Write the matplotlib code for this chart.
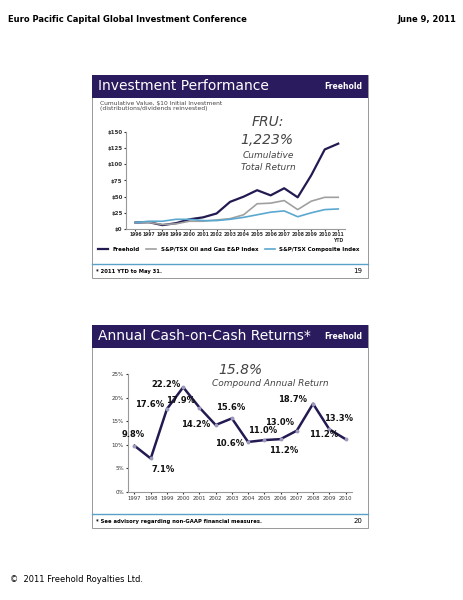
import matplotlib
matplotlib.use("Agg")
import matplotlib.pyplot as plt
from matplotlib.patches import Rectangle

years1 = ["1996","1997","1998","1999","2000","2001","2002","2003","2004","2005","2006","2007","2008","2009","2010","2011\nYTD"]
freehold = [10,10.5,6,9,15,18,24,42,50,60,52,63,49,83,123,132]
oilgas = [10,10,7,8,12,12,14,16,22,39,40,44,30,43,49,49]
composite = [10,12,12,15,15,13,13,15,18,22,26,28,19,25,30,31]
years2 = ["1997","1998","1999","2000","2001","2002","2003","2004","2005","2006","2007","2008","2009","2010"]
returns = [9.8,7.1,17.6,22.2,17.9,14.2,15.6,10.6,11.0,11.2,13.0,18.7,13.3,11.2]

W, H = 464, 600
fig = plt.figure(figsize=(4.64, 6), dpi=100)
fig.patch.set_facecolor("white")
PURPLE = "#2a1b5e"
NAVY = "#241a52"

def fx(x): return x / W
def fy(y): return 1 - y / H

fig.text(fx(8), fy(20), "Euro Pacific Capital Global Investment Conference", fontsize=6, fontweight="bold", va="center")
fig.text(fx(456), fy(20), "June 9, 2011", fontsize=6, fontweight="bold", va="center", ha="right")
fig.text(fx(10), fy(580), "©  2011 Freehold Royalties Ltd.", fontsize=6, va="center")

def slide(top, bottom, title, foot, num):
    fig.add_artist(Rectangle((fx(92), fy(bottom)), fx(368) - fx(92), fy(top) - fy(bottom),
                             transform=fig.transFigure, fill=False, ec="#888888", lw=0.6))
    fig.add_artist(Rectangle((fx(92), fy(top + 23)), fx(368) - fx(92), fy(top) - fy(top + 23),
                             transform=fig.transFigure, fc=PURPLE, ec="none"))
    fig.text(fx(98), fy(top + 11.5), title, color="white", fontsize=10, va="center")
    fig.text(fx(362), fy(top + 11.5), "Freehold", color="white", fontsize=5.5, fontweight="bold", va="center", ha="right")
    fig.add_artist(plt.Line2D([fx(92), fx(368)], [fy(bottom - 14), fy(bottom - 14)], transform=fig.transFigure, color="#5aa0c8", lw=1))
    fig.text(fx(96), fy(bottom - 7), foot, fontsize=3.8, fontweight="bold", va="center")
    fig.text(fx(362), fy(bottom - 7), num, fontsize=5, va="center", ha="right")

slide(75, 278, "Investment Performance", "* 2011 YTD to May 31.", "19")
slide(325, 528, "Annual Cash-on-Cash Returns*", "* See advisory regarding non-GAAP financial measures.", "20")

# chart 1
ax1 = fig.add_axes([fx(126), fy(229), fx(345) - fx(126), fy(132) - fy(229)])
x1 = range(len(years1))
ax1.plot(x1, freehold, color=NAVY, lw=1.6, label="Freehold")
ax1.plot(x1, oilgas, color="#a0a0a0", lw=1.2, label="S&P/TSX Oil and Gas E&P Index")
ax1.plot(x1, composite, color="#5aa8d0", lw=1.2, label="S&P/TSX Composite Index")
ax1.set_ylim(0, 150)
ax1.set_yticks(range(0, 151, 25))
ax1.set_yticklabels(["$%d" % v for v in range(0, 151, 25)], fontsize=4, fontweight="bold")
ax1.set_xticks(list(x1))
ax1.set_xticklabels(years1, fontsize=3.3, fontweight="bold")
ax1.set_xlim(-0.7, len(years1) - 0.5)
for s in ["top", "right"]:
    ax1.spines[s].set_visible(False)
ax1.spines["left"].set_color("#999999")
ax1.spines["bottom"].set_color("#999999")
ax1.tick_params(length=1.5, pad=1, colors="#333333")
ax1.legend(loc="upper center", bbox_to_anchor=(0.47, -0.13), ncol=3, frameon=False,
           handlelength=1.8, columnspacing=1.2, prop={"weight": "bold", "size": 4})
fig.text(fx(100), fy(106), "Cumulative Value, $10 Initial Investment\n(distributions/dividends reinvested)",
         fontsize=4.3, color="#444444", va="center", linespacing=1.1)
fig.text(fx(268), fy(122), "FRU:", fontsize=10, style="italic", color="#444444", ha="center", va="center")
fig.text(fx(267), fy(140), "1,223%", fontsize=10, style="italic", color="#444444", ha="center", va="center")
fig.text(fx(268), fy(155), "Cumulative", fontsize=6.5, style="italic", color="#444444", ha="center", va="center")
fig.text(fx(268), fy(167), "Total Return", fontsize=6.5, style="italic", color="#444444", ha="center", va="center")

# chart 2
ax2 = fig.add_axes([fx(128), fy(492), fx(352) - fx(128), fy(374) - fy(492)])
x2 = range(len(years2))
ax2.plot(x2, returns, color=NAVY, lw=1.8, marker="o", ms=1.8, mfc="#9999bb", mec="#9999bb")
ax2.set_ylim(0, 25)
ax2.set_yticks(range(0, 26, 5))
ax2.set_yticklabels(["%d%%" % v for v in range(0, 26, 5)], fontsize=4)
ax2.set_xticks(list(x2))
ax2.set_xticklabels(years2, fontsize=3.8)
ax2.set_xlim(-0.4, len(years2) - 0.6)
for s in ["top", "right"]:
    ax2.spines[s].set_visible(False)
ax2.spines["left"].set_color("#999999")
ax2.spines["bottom"].set_color("#999999")
ax2.tick_params(length=1.5, pad=1.5, colors="#333333")
offsets = [(-1, 8), (9, -8), (-2, 3), (-2, 2), (-3, 5), (-4, 0), (-1, 8), (-3, -1), (-1, 7), (2, -8), (-2, 6), (-4, 3), (7, 8), (-5, 3)]
aligns = ["center", "center", "right", "right", "right", "right", "center", "right", "center", "center", "right", "right", "center", "right"]
for i, v in enumerate(returns):
    dx, dy = offsets[i]
    ax2.annotate("%.1f%%" % v, (i, v), xytext=(dx, dy), textcoords="offset points",
                 ha=aligns[i], va="center", fontsize=6, fontweight="bold", color="#111111")
fig.text(fx(240), fy(370), "15.8%", fontsize=10, style="italic", color="#444444", ha="center", va="center")
fig.text(fx(270), fy(384), "Compound Annual Return", fontsize=6.5, style="italic", color="#444444", ha="center", va="center")

fig.savefig("out.png", dpi=100)
